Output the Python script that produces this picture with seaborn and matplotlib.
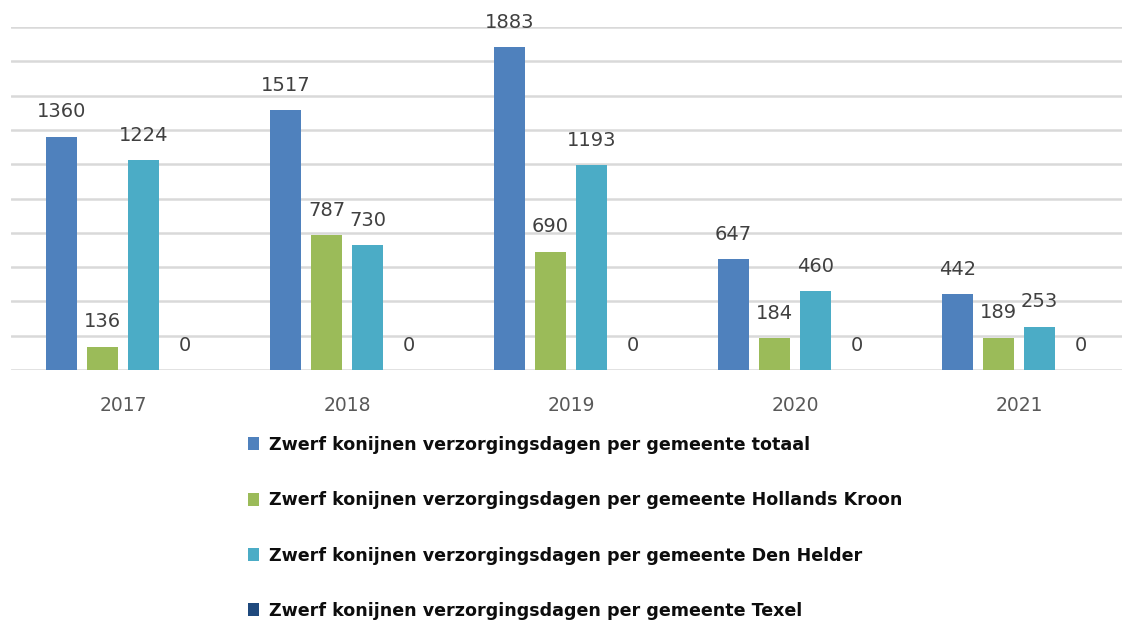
import matplotlib
matplotlib.use("Agg")
import matplotlib.pyplot as plt
from matplotlib.patches import Patch
import seaborn as sns
import pandas as pd

years = ["2017", "2018", "2019", "2020", "2021"]
series_names = [
    "Zwerf konijnen verzorgingsdagen per gemeente totaal",
    "Zwerf konijnen verzorgingsdagen per gemeente Hollands Kroon",
    "Zwerf konijnen verzorgingsdagen per gemeente Den Helder",
    "Zwerf konijnen verzorgingsdagen per gemeente Texel",
]
totaal = [1360, 1517, 1883, 647, 442]
hollands_kroon = [136, 787, 690, 184, 189]
den_helder = [1224, 730, 1193, 460, 253]
texel = [0, 0, 0, 0, 0]
colors = ["#4F81BD", "#9BBB59", "#4BACC6", "#1F497D"]

rows = []
for name, vals in zip(series_names, [totaal, hollands_kroon, den_helder, texel]):
    for y, v in zip(years, vals):
        rows.append({"jaar": y, "serie": name, "waarde": v})
df = pd.DataFrame(rows)

sns.set_style("white")
plt.rcParams["font.family"] = ["DejaVu Sans"]

fig = plt.figure(figsize=(11.22, 6.28), dpi=100)
ax = fig.add_axes([11 / 1122, (628 - 370) / 628, 1120 / 1122, (370 - 27) / 628])

sns.barplot(data=df, x="jaar", y="waarde", hue="serie", order=years,
            hue_order=series_names, palette=colors, width=0.732, gap=0.22,
            ax=ax, legend=False, saturation=1, edgecolor="none")

for c in ax.containers:
    ax.bar_label(c, fmt="%d", padding=11, fontsize=14, color="#404040")

ax.set_ylim(0, 2000)
ax.set_xlim(-0.5, 4.5)
ax.set_yticks(range(0, 2001, 200))
ax.yaxis.grid(True, color="#D9D9D9", linewidth=1.8)
ax.set_axisbelow(True)
ax.tick_params(axis="y", left=False, labelleft=False)
ax.tick_params(axis="x", bottom=False, labelsize=13.5, labelcolor="#595959", pad=15)
for s in ax.spines.values():
    s.set_visible(False)
ax.set_xlabel("")
ax.set_ylabel("")

handles = [Patch(facecolor=c, edgecolor="none") for c in colors]
leg = fig.legend(handles, series_names, loc="upper left",
                 bbox_to_anchor=(248 / 1122, 1 - 436 / 628), frameon=False,
                 prop={"weight": "bold", "size": 12.6}, handlelength=0.65,
                 handleheight=0.75, handletextpad=0.55, labelspacing=2.13,
                 borderpad=0, borderaxespad=0)
for t in leg.get_texts():
    t.set_color("#0D0D0D")

fig.savefig("out.png", dpi=100)
